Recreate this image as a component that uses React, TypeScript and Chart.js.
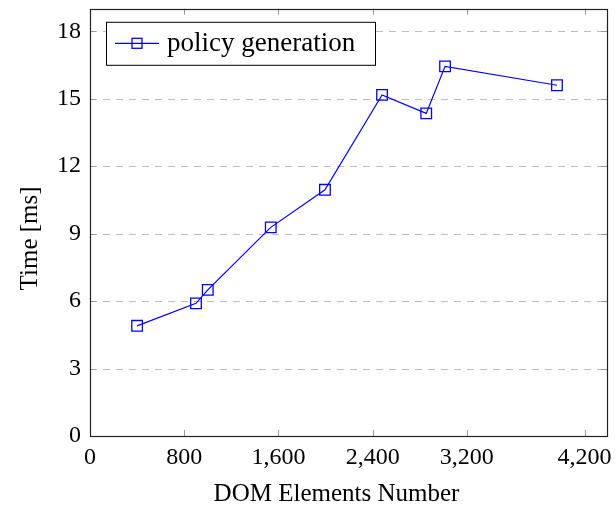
import React, { useEffect, useRef } from "react";
import { Chart, registerables } from "chart.js";

Chart.register(...registerables);

const domElements = [400, 900, 1000, 1535, 1995, 2480, 2855, 3015, 3965];
const policyGenerationMs = [4.9, 5.9, 6.5, 9.28, 10.95, 15.17, 14.35, 16.44, 15.6];
const xTickValues = [0, 800, 1600, 2400, 3200, 4200];
const yTickValues = [0, 3, 6, 9, 12, 15, 18];
const seriesLabel = "policy generation";
const xTitle = "DOM Elements Number";
const yTitle = "Time [ms]";

const FONT = "'Liberation Serif', 'DejaVu Serif', serif";
const BLUE = "rgb(0,0,255)";

const framePlugin = {
  id: "frame",
  beforeDatasetsDraw(chart: any) {
    const { ctx, chartArea: a, scales } = chart;
    ctx.save();
    ctx.strokeStyle = "#bdbdbd";
    ctx.lineWidth = 1;
    ctx.setLineDash([7, 6]);
    for (const v of yTickValues) {
      if (v === 0) continue;
      const py = Math.round(scales.y.getPixelForValue(v)) + 0.5;
      ctx.beginPath();
      ctx.moveTo(a.left, py);
      ctx.lineTo(a.right, py);
      ctx.stroke();
    }
    ctx.restore();
  },
  afterDraw(chart: any) {
    const { ctx, chartArea: a, scales } = chart;
    ctx.save();
    // inner tick marks
    ctx.strokeStyle = "#9a9a9a";
    ctx.lineWidth = 1;
    const tl = 6;
    for (const v of xTickValues) {
      if (v === 0) continue;
      const px = Math.round(scales.x.getPixelForValue(v)) + 0.5;
      ctx.beginPath();
      ctx.moveTo(px, a.bottom);
      ctx.lineTo(px, a.bottom - tl);
      ctx.moveTo(px, a.top);
      ctx.lineTo(px, a.top + tl);
      ctx.stroke();
    }
    for (const v of yTickValues) {
      if (v === 0) continue;
      const py = Math.round(scales.y.getPixelForValue(v)) + 0.5;
      ctx.beginPath();
      ctx.moveTo(a.left, py);
      ctx.lineTo(a.left + tl, py);
      ctx.moveTo(a.right, py);
      ctx.lineTo(a.right - tl, py);
      ctx.stroke();
    }
    // frame
    ctx.strokeStyle = "#222";
    ctx.lineWidth = 1.2;
    ctx.strokeRect(Math.round(a.left) + 0.5, Math.round(a.top) + 0.5, Math.round(a.right - a.left), Math.round(a.bottom - a.top));

    // legend
    const lx = a.left + 16;
    const ly = a.top + 13;
    const lw = 269;
    const lh = 43;
    ctx.fillStyle = "#fff";
    ctx.fillRect(lx, ly, lw, lh);
    ctx.strokeStyle = "#000";
    ctx.lineWidth = 1;
    ctx.strokeRect(lx + 0.5, ly + 0.5, lw, lh);
    const cy = ly + lh / 2;
    ctx.strokeStyle = BLUE;
    ctx.lineWidth = 1.2;
    ctx.beginPath();
    ctx.moveTo(lx + 9, cy);
    ctx.lineTo(lx + 53, cy);
    ctx.stroke();
    ctx.lineWidth = 1.3;
    ctx.strokeRect(lx + 31 - 5, cy - 5, 10, 10);
    ctx.fillStyle = "#000";
    ctx.font = `27px ${FONT}`;
    ctx.textBaseline = "middle";
    ctx.textAlign = "left";
    ctx.fillText(seriesLabel, lx + 61, cy + 1);

    // axis titles
    ctx.font = `25px ${FONT}`;
    ctx.textAlign = "center";
    ctx.textBaseline = "alphabetic";
    ctx.fillText(xTitle, (a.left + a.right) / 2 - 12, 501);
    ctx.save();
    ctx.translate(37, (a.top + a.bottom) / 2 + 16);
    ctx.rotate(-Math.PI / 2);
    ctx.fillText(yTitle, 0, 0);
    ctx.restore();
    ctx.restore();
  },
};

export default function App() {
  const ref = useRef<HTMLCanvasElement | null>(null);
  useEffect(() => {
    const canvas = ref.current;
    if (!canvas) return;
    const chart = new Chart(canvas, {
      type: "line",
      data: {
        datasets: [
          {
            label: seriesLabel,
            data: domElements.map((x, i) => ({ x, y: policyGenerationMs[i] })),
            borderColor: BLUE,
            borderWidth: 1.2,
            pointStyle: "rect",
            pointRadius: 7.5,
            pointBorderWidth: 1.3,
            pointBorderColor: BLUE,
            pointBackgroundColor: "rgba(0,0,0,0)",
            tension: 0,
            fill: false,
          },
        ],
      },
      options: {
        animation: false,
        responsive: false,
        maintainAspectRatio: false,
        layout: { padding: { top: 6, right: 9, left: 0, bottom: 0 } },
        plugins: { legend: { display: false }, tooltip: { enabled: false } },
        scales: {
          x: {
            type: "linear",
            min: 0,
            max: 4390,
            grid: { display: false, drawTicks: false },
            border: { display: false },
            afterBuildTicks: (s: any) => {
              s.ticks = xTickValues.map((v) => ({ value: v }));
            },
            afterFit: (s: any) => {
              s.height = 73;
              s.paddingLeft = 0;
              s.paddingRight = 0;
            },
            ticks: {
              autoSkip: false,
              maxRotation: 0,
              minRotation: 0,
              padding: 7,
              color: "#000",
              font: { family: FONT, size: 24 },
              callback: (v: any) => Number(v).toLocaleString("en-US"),
            },
          },
          y: {
            type: "linear",
            min: 0,
            max: 19,
            grid: { display: false, drawTicks: false },
            border: { display: false },
            afterBuildTicks: (s: any) => {
              s.ticks = yTickValues.map((v) => ({ value: v }));
            },
            afterFit: (s: any) => {
              s.width = 90;
              s.paddingTop = 0;
              s.paddingBottom = 0;
            },
            ticks: {
              autoSkip: false,
              padding: 9,
              color: "#000",
              font: { family: FONT, size: 24 },
              callback: (v: any) => String(v),
            },
          },
        },
      },
      plugins: [framePlugin],
    });
    return () => chart.destroy();
  }, []);
  return (
    <div style={{ position: "fixed", left: 0, top: 0, width: 616, height: 509, background: "#fff" }}>
      <canvas ref={ref} width={616} height={509} style={{ width: 616, height: 509, display: "block" }} />
    </div>
  );
}
